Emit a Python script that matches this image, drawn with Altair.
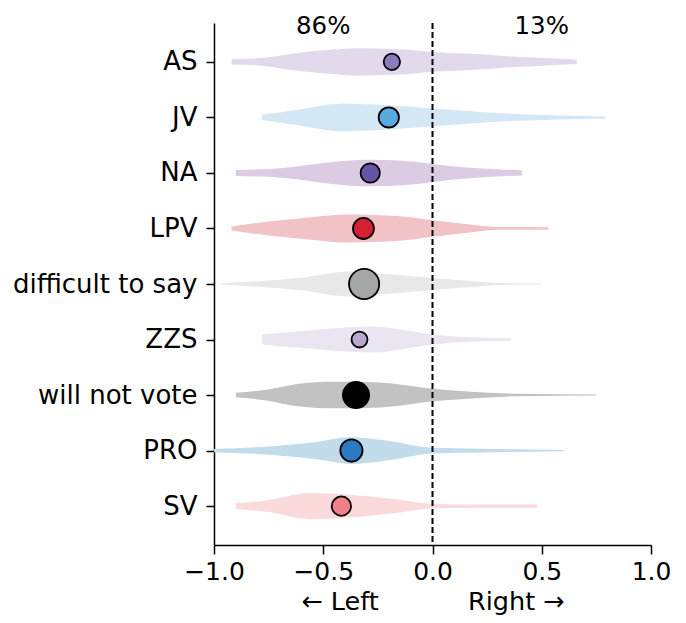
import altair as alt
import pandas as pd

# ---- data ----
categories = ["AS", "JV", "NA", "LPV", "difficult to say", "ZZS", "will not vote", "PRO", "SV"]

# violin profiles: positions on the left-right scale and relative density (max ~1)
violin_x = {
    "AS": [-0.92, -0.76, -0.61, -0.45, -0.35, -0.15, 0.0, 0.16, 0.31, 0.46, 0.66],
    "JV": [-0.78, -0.61, -0.42, -0.22, 0.0, 0.16, 0.31, 0.54, 0.79],
    "NA": [-0.90, -0.68, -0.45, -0.30, -0.12, 0.08, 0.23, 0.41],
    "LPV": [-0.92, -0.76, -0.61, -0.39, -0.15, 0.0, 0.16, 0.31, 0.53],
    "difficult to say": [-0.97, -0.76, -0.61, -0.38, -0.21, 0.0, 0.16, 0.31, 0.50],
    "ZZS": [-0.78, -0.61, -0.38, -0.27, -0.12, 0.0, 0.16, 0.36],
    "will not vote": [-0.90, -0.76, -0.61, -0.45, -0.30, -0.15, 0.0, 0.16, 0.39, 0.75],
    "PRO": [-1.0, -0.68, -0.53, -0.38, -0.22, 0.0, 0.23, 0.60],
    "SV": [-0.90, -0.76, -0.56, -0.38, -0.15, 0.0, 0.23, 0.48],
}
violin_density = {
    "AS": [0.18, 0.31, 0.66, 0.88, 0.98, 0.91, 0.71, 0.59, 0.43, 0.31, 0.16],
    "JV": [0.19, 0.57, 0.98, 0.88, 0.64, 0.45, 0.29, 0.16, 0.07],
    "NA": [0.21, 0.36, 0.80, 0.95, 0.86, 0.50, 0.31, 0.19],
    "LPV": [0.14, 0.48, 0.71, 1.00, 0.88, 0.59, 0.31, 0.10, 0.09],
    "difficult to say": [0.04, 0.24, 0.43, 0.90, 0.71, 0.43, 0.24, 0.07, 0.04],
    "ZZS": [0.36, 0.59, 0.88, 0.93, 0.64, 0.36, 0.16, 0.09],
    "will not vote": [0.16, 0.38, 0.81, 0.95, 0.93, 0.76, 0.45, 0.26, 0.09, 0.04],
    "PRO": [0.11, 0.38, 0.62, 0.95, 0.74, 0.21, 0.14, 0.04],
    "SV": [0.21, 0.41, 0.93, 0.81, 0.45, 0.16, 0.12, 0.12],
}

# mean positions and group shares
mean_position = [-0.186, -0.20, -0.285, -0.316, -0.313, -0.334, -0.35, -0.371, -0.417]
group_share = [5.9, 9.0, 8.2, 9.7, 20.0, 5.6, 15.1, 10.9, 8.2]

side_labels = ["86%", "13%"]
side_label_x = [-0.5, 0.5]

x_ticks = [-1.0, -0.5, 0.0, 0.5, 1.0]

# ---- styles ----
violin_colors = ["#e2d9ec", "#d3e8f4", "#dccce3", "#f1c2c6", "#e8e8e8",
                 "#ebe4f1", "#c2c2c2", "#c3dcec", "#fadada"]
point_colors = ["#8d7bbf", "#5aaadf", "#6753a5", "#d42030", "#a5a7a7",
                "#b9a7d2", "#000000", "#2a7bc0", "#f28088"]
HALF = 0.252  # max half-width of a violin in category units
FONT = "DejaVu Sans"

# ---- tables ----
vrows = []
for i, c in enumerate(categories):
    for xv, d in zip(violin_x[c], violin_density[c]):
        vrows.append({"cat": c, "idx": i, "x": xv,
                      "lo": i - d * HALF, "hi": i + d * HALF})
vdf = pd.DataFrame(vrows)

pdf = pd.DataFrame({"cat": categories, "idx": list(range(len(categories))),
                    "x": mean_position, "share": group_share})
tdf = pd.DataFrame({"label": side_labels, "x": side_label_x})

label_expr = "[" + ",".join("'" + c + "'" for c in categories) + "][datum.value]"

xscale = alt.Scale(domain=[-1, 1], nice=False, zero=False)
yscale = alt.Scale(domain=[-0.7, 8.7], reverse=True, nice=False, zero=False)

xaxis = alt.Axis(values=x_ticks, grid=False, labelFlush=False, labelOverlap=False,
                 labelExpr="replace(format(datum.value, '.1f'), '-', '\u2212')",
                 title="\u2190 Left" + "\u00a0" * 11 + "Right \u2192",
                 labelFontSize=25, titleFontSize=25.5, titleFontWeight="normal",
                 tickSize=9, tickWidth=1.5, domainWidth=1.5,
                 labelPadding=5, titlePadding=5,
                 domainColor="black", tickColor="black",
                 labelColor="black", titleColor="black",
                 labelFont=FONT, titleFont=FONT)
yaxis = alt.Axis(values=list(range(len(categories))), labelExpr=label_expr,
                 grid=False, title=None, labelFontSize=26, labelLimit=400,
                 tickSize=8, tickWidth=1.5, domainWidth=1.5,
                 labelPadding=9, domainColor="black", tickColor="black",
                 labelColor="black", labelFont=FONT)

violins = alt.Chart(vdf).mark_area(interpolate="monotone", opacity=1).encode(
    x=alt.X("x:Q", scale=xscale, axis=xaxis),
    y=alt.Y("lo:Q", scale=yscale, axis=yaxis),
    y2="hi:Q",
    color=alt.Color("cat:N", scale=alt.Scale(domain=categories, range=violin_colors), legend=None),
    detail="cat:N",
)

zero_line = alt.Chart(tdf).mark_rule(color="black", strokeWidth=1.6, strokeDash=[6, 3]).encode(
    x=alt.datum(0, scale=xscale),
)

points = alt.Chart(pdf).mark_circle(stroke="black", strokeWidth=1.8, opacity=1).encode(
    x=alt.X("x:Q", scale=xscale),
    y=alt.Y("idx:Q", scale=yscale),
    fill=alt.Fill("cat:N", scale=alt.Scale(domain=categories, range=point_colors), legend=None),
    size=alt.Size("share:Q", scale=alt.Scale(domain=[0, 20], range=[0, 910]), legend=None),
)

side_text = alt.Chart(tdf).mark_text(font=FONT, fontSize=24.5, color="black", baseline="middle").encode(
    x=alt.X("x:Q", scale=xscale),
    y=alt.value(4),
    text="label:N",
)

chart = alt.layer(violins, zero_line, points, side_text).resolve_scale(
    color="independent", fill="independent"
).properties(
    width=437, height=522,
    autosize=alt.AutoSizeParams(type="none"),
    padding={"left": 206, "top": 15, "right": 27, "bottom": 70},
).configure_view(stroke=None)

chart.save("out.html", embed_options={"renderer": "svg", "actions": False})
